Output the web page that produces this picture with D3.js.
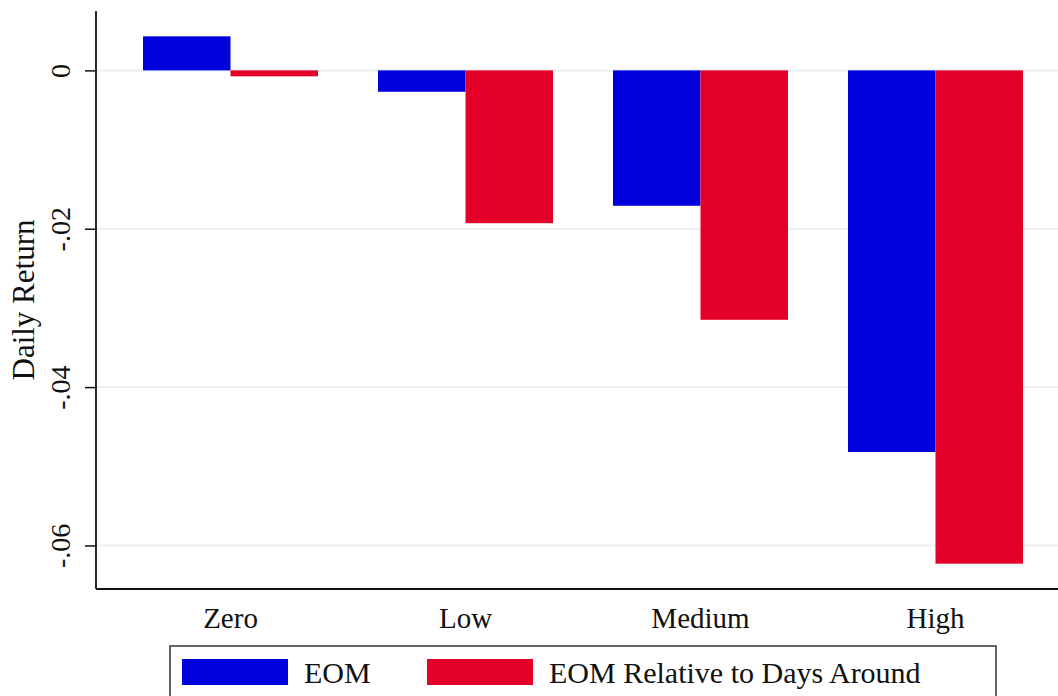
<!DOCTYPE html>
<html><head><meta charset="utf-8">
<script src="https://cdn.jsdelivr.net/npm/d3@7"></script>
<style>body{margin:0;background:#fff}svg{display:block}text{font-family:"Liberation Serif","Times New Roman",serif;fill:#111}</style>
</head><body>
<svg id="c" width="1058" height="696"></svg>
<script>
const categories = ["Zero", "Low", "Medium", "High"];
const seriesNames = ["EOM", "EOM Relative to Days Around"];
const eom = [0.0043, -0.0027, -0.0171, -0.0482];
const eomRelative = [-0.00075, -0.0193, -0.0315, -0.0623];
const yTicks = [0, -0.02, -0.04, -0.06];
const yTickLabels = ["0", "-.02", "-.04", "-.06"];
const colors = ["#0000dc", "#e5002a"];

const svg = d3.select("#c");
const pL = 96, pR = 1058, pT = 11, pB = 589;

const y = d3.scaleLinear().domain([-0.0655, 0.0075]).range([pB, pT]);
const x = d3.scaleBand().domain(categories).range([113, 1053]).paddingInner(0.2553).paddingOuter(0.1277);
const xs = d3.scaleBand().domain(seriesNames).range([0, x.bandwidth()]);

// gridlines
svg.append("g").selectAll("line").data(yTicks).join("line")
  .attr("x1", pL).attr("x2", pR).attr("y1", d => y(d)).attr("y2", d => y(d))
  .attr("stroke", "#e8f0f1").attr("stroke-width", 2);

const data = categories.map((c, i) => ({c, vals: [eom[i], eomRelative[i]]}));
const g = svg.append("g");
data.forEach(d => {
  d.vals.forEach((v, j) => {
    g.append("rect")
      .attr("x", x(d.c) + xs(seriesNames[j]))
      .attr("width", xs.bandwidth())
      .attr("y", y(Math.max(0, v)))
      .attr("height", Math.abs(y(v) - y(0)))
      .attr("fill", colors[j]);
  });
});

// y axis
const yAxis = d3.axisLeft(y).tickValues(yTicks).tickFormat((d, i) => yTickLabels[i]).tickSize(11).tickPadding(0);
const ya = svg.append("g").attr("transform", `translate(${pL},0)`).call(yAxis);
ya.select(".domain").remove();
ya.selectAll(".tick line").attr("stroke", "#111").attr("stroke-width", 1.5);
ya.selectAll(".tick text").attr("font-size", 28).attr("text-anchor", "middle")
  .attr("transform", "translate(-36,0) rotate(-90)")
  .attr("x", 0).attr("y", 0).attr("dy", "0.35em");
svg.append("line").attr("x1", pL).attr("x2", pL).attr("y1", pT).attr("y2", pB).attr("stroke", "#111").attr("stroke-width", 1.8);

// x axis
const xAxis = d3.axisBottom(x).tickSize(0).tickPadding(0);
const xa = svg.append("g").attr("transform", `translate(0,${pB})`).call(xAxis);
xa.select(".domain").remove();
xa.selectAll(".tick text").attr("font-size", 29).attr("y", 39).attr("dy", 0);
svg.append("line").attr("x1", pL).attr("x2", pR).attr("y1", pB).attr("y2", pB).attr("stroke", "#111").attr("stroke-width", 1.8);

// y title
svg.append("text").attr("transform", `translate(34,${(pT + pB) / 2}) rotate(-90)`)
  .attr("text-anchor", "middle").attr("font-size", 31).text("Daily Return");

// legend
const lg = svg.append("g");
lg.append("rect").attr("x", 170).attr("y", 646).attr("width", 826).attr("height", 70)
  .attr("fill", "#fff").attr("stroke", "#333").attr("stroke-width", 1.5);
const legX = [182, 427];
seriesNames.forEach((s, j) => {
  lg.append("rect").attr("x", legX[j]).attr("y", 659).attr("width", 106).attr("height", 26).attr("fill", colors[j]);
  lg.append("text").attr("x", legX[j] + 122).attr("y", 683).attr("font-size", 30).text(s);
});
</script>
</body></html>
